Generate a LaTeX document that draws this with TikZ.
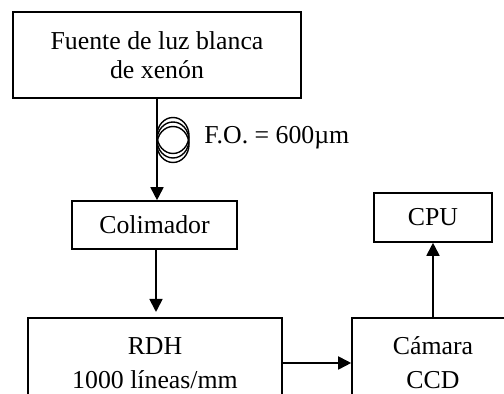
\documentclass[tikz,border=0pt]{standalone}
\usepackage{fontspec}
\setmainfont{Liberation Serif}
\usetikzlibrary{arrows.meta}

\begin{document}
\begin{tikzpicture}[x=0.5pt, y=-0.5pt, >={Triangle[length=6.5pt, width=6.5pt]},
  caja/.style={draw, line width=0.8pt, inner sep=0pt, align=center,
               font=\fontsize{12.9}{14.2}\selectfont},
  cajaalta/.style={caja, font=\fontsize{12.9}{17}\selectfont},
  flecha/.style={->, line width=0.9pt}]

  \useasboundingbox (0,0) rectangle (504,394);
  \clip (0,0) rectangle (504,394);

  % Bloques del montaje.
  \node[caja, minimum width=144pt, minimum height=43pt] (fuente) at (157,55)
       {Fuente de luz blanca\\ de xenón};
  \node[caja, minimum width=82.5pt, minimum height=24pt] (colimador) at (154.5,225)
       {Colimador};
  \node[cajaalta, minimum width=127pt, minimum height=45pt] (rdh) at (155,363)
       {RDH\\ 1000 líneas/mm};
  \node[cajaalta, minimum width=81pt, minimum height=45pt] (camara) at (433,363)
       {Cámara\\ CCD};
  \node[caja, minimum width=59pt, minimum height=24.5pt] (cpu) at (433,217.5)
       {CPU};

  % Conexiones.
  \draw[flecha] (fuente.south) -- (fuente.south |- colimador.north);
  \draw[flecha, shorten >=2.6pt] ([xshift=0.75pt]colimador.south)
       -- ([xshift=0.75pt]colimador.south |- rdh.north);
  \draw[flecha] (rdh.east) -- (camara.west);
  \draw[flecha] (camara.north) -- (cpu.south);

  % Fibra óptica enrollada.
  \foreach \dy in {-4.5,0,4.5}
    \draw[line width=0.7pt] (173,140+\dy) ellipse [x radius=8pt, y radius=9pt];
  \node[anchor=base west, inner sep=0pt, font=\fontsize{12.9}{14.2}\selectfont] (fo)
       at (204,144) {F.O. = 600µm};

\end{tikzpicture}
\end{document}
